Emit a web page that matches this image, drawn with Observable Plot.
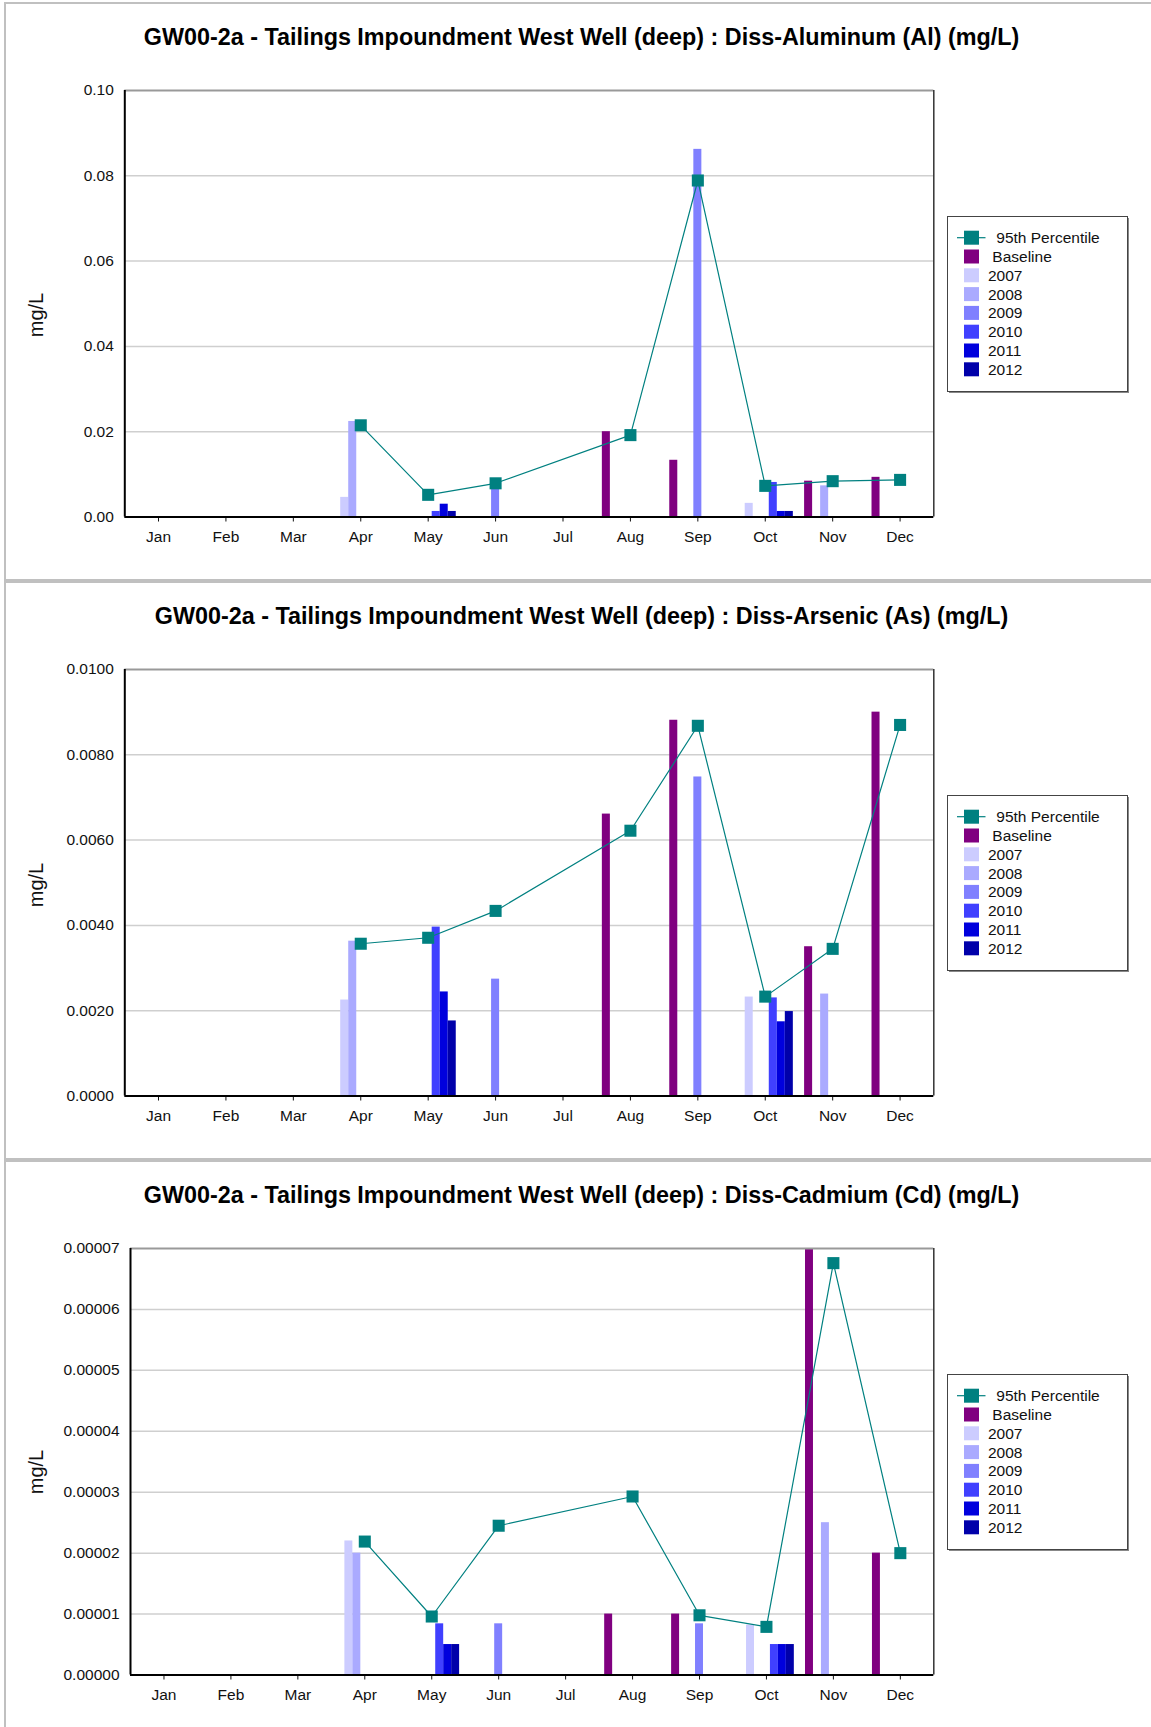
<!DOCTYPE html>
<html>
<head>
<meta charset="utf-8">
<script src="https://cdn.jsdelivr.net/npm/d3@7"></script>
<script src="https://cdn.jsdelivr.net/npm/@observablehq/plot@0.6"></script>
<style>
html, body { margin: 0; padding: 0; background: #fff; overflow: hidden; }
body { font-family: "Liberation Sans", Arial, sans-serif; }
#wrap { padding-top: 2px; padding-left: 4px; }
.panel { position: relative; width: 1151px; height: 575px; border: 2px solid #c0c0c0; border-right: none; background: #fff; overflow: hidden; }
.title { position: absolute; left: 0; top: 20px; width: 1151px; text-align: center; font-weight: bold; font-size: 23.35px; line-height: 26px; color: #000; white-space: nowrap; }
.ylabel { position: absolute; left: 30.3px; font-size: 20px; line-height: 22px; color: #111; white-space: nowrap; transform: translate(-50%, -50%) rotate(-90deg); }
.panel svg.chart { position: absolute; left: 0; top: 0; }
.panel svg.legend { position: absolute; left: 941px; top: 212px; }
</style>
</head>
<body>
<div id="wrap"></div>
<script>
// ---------- shared categories ----------
const months = ["Jan","Feb","Mar","Apr","May","Jun","Jul","Aug","Sep","Oct","Nov","Dec"];
const series = ["Baseline","2007","2008","2009","2010","2011","2012"];
const seriesColors = ["#800080","#ccccff","#aaaaff","#8080ff","#4040ff","#0000dd","#0000aa"];
const p95Label = "95th Percentile";
const p95Color = "#008080";
const yLabel = "mg/L";

// ---------- Panel 1: Diss-Aluminum (Al) ----------
const alTitle = "GW00-2a - Tailings Impoundment West Well (deep) : Diss-Aluminum (Al) (mg/L)";
const alTicks = [0, 0.02, 0.04, 0.06, 0.08, 0.10];
//                 Jan   Feb   Mar   Apr     May     Jun     Jul   Aug     Sep     Oct     Nov     Dec
const alBaseline = [null, null, null, null,   null,   null,   null, 0.0200, 0.0133, null,   0.0084, 0.0093];
const al2007     = [null, null, null, 0.0046, null,   null,   null, null,   null,   0.0032, null,   null];
const al2008     = [null, null, null, 0.0224, null,   null,   null, null,   null,   null,   0.0073, null];
const al2009     = [null, null, null, null,   null,   0.0070, null, null,   0.0862, null,   null,   null];
const al2010     = [null, null, null, null,   0.0013, null,   null, null,   null,   0.0081, null,   null];
const al2011     = [null, null, null, null,   0.0030, null,   null, null,   null,   0.0013, null,   null];
const al2012     = [null, null, null, null,   0.0013, null,   null, null,   null,   0.0013, null,   null];
const alP95      = [null, null, null, 0.0215, 0.0052, 0.0079, null, 0.0192, 0.0789, 0.0073, 0.0084, 0.0087];

// ---------- Panel 2: Diss-Arsenic (As) ----------
const asTitle = "GW00-2a - Tailings Impoundment West Well (deep) : Diss-Arsenic (As) (mg/L)";
const asTicks = [0, 0.002, 0.004, 0.006, 0.008, 0.010];
const asBaseline = [null, null, null, null,    null,    null,    null, 0.00661, 0.00881, null,    0.00350, 0.00900];
const as2007     = [null, null, null, 0.00225, null,    null,    null, null,    null,    0.00232, null,    null];
const as2008     = [null, null, null, 0.00363, null,    null,    null, null,    null,    null,    0.00239, null];
const as2009     = [null, null, null, null,    null,    0.00274, null, null,    0.00748, null,    null,    null];
const as2010     = [null, null, null, null,    0.00396, null,    null, null,    null,    0.00230, null,    null];
const as2011     = [null, null, null, null,    0.00244, null,    null, null,    null,    0.00174, null,    null];
const as2012     = [null, null, null, null,    0.00176, null,    null, null,    null,    0.00198, null,    null];
const asP95      = [null, null, null, 0.00357, 0.00371, 0.00434, null, 0.00622, 0.00868, 0.00233, 0.00345, 0.00870];

// ---------- Panel 3: Diss-Cadmium (Cd) ----------
const cdTitle = "GW00-2a - Tailings Impoundment West Well (deep) : Diss-Cadmium (Cd) (mg/L)";
const cdTicks = [0, 0.00001, 0.00002, 0.00003, 0.00004, 0.00005, 0.00006, 0.00007];
const cdBaseline = [null, null, null, null,      null,      null,      null, 0.0000100, 0.0000100, null,      0.0000700, 0.0000200];
const cd2007     = [null, null, null, 0.0000220, null,      null,      null, null,      null,      0.0000082, null,      null];
const cd2008     = [null, null, null, 0.0000200, null,      null,      null, null,      null,      null,      0.0000250, null];
const cd2009     = [null, null, null, null,      null,      0.0000084, null, null,      0.0000084, null,      null,      null];
const cd2010     = [null, null, null, null,      0.0000084, null,      null, null,      null,      0.0000050, null,      null];
const cd2011     = [null, null, null, null,      0.0000050, null,      null, null,      null,      0.0000050, null,      null];
const cd2012     = [null, null, null, null,      0.0000050, null,      null, null,      null,      0.0000050, null,      null];
const cdP95      = [null, null, null, 0.0000219, 0.0000096, 0.0000245, null, 0.0000293, 0.0000098, 0.0000079, 0.0000676, 0.0000200];

const panels = [
  {title: alTitle, ticks: alTicks, fmt: ".2f", bars: [alBaseline, al2007, al2008, al2009, al2010, al2011, al2012], p95: alP95, ml: 118.3, ylabelTop: 311},
  {title: asTitle, ticks: asTicks, fmt: ".4f", bars: [asBaseline, as2007, as2008, as2009, as2010, as2011, as2012], p95: asP95, ml: 118.3, ylabelTop: 302},
  {title: cdTitle, ticks: cdTicks, fmt: ".5f", bars: [cdBaseline, cd2007, cd2008, cd2009, cd2010, cd2011, cd2012], p95: cdP95, ml: 124, ylabelTop: 310}
];

const W = 1151, H = 575;
const BW = 0.119;                 // bar width as a fraction of one month
const PAD = (1 - series.length * BW) / 2;
const font = "'Liberation Sans', Arial, sans-serif";

function makeChart(cfg) {
  const rows = [];
  cfg.bars.forEach((vals, s) => vals.forEach((v, m) => { if (v != null) rows.push({m, s, v}); }));
  const pts = cfg.p95.map((v, m) => ({m, v})).filter(d => d.v != null);
  const ymax = cfg.ticks[cfg.ticks.length - 1];
  const x1 = d => d.m - 0.5 + PAD + d.s * BW;
  const x2 = d => d.m - 0.5 + PAD + (d.s + 1) * BW;
  const svg = Plot.plot({
    width: W, height: H,
    marginLeft: cfg.ml, marginRight: W - 927.3, marginTop: 86, marginBottom: H - 512.5,
    style: {fontFamily: font, fontSize: "15.5px", color: "#111", background: "transparent", overflow: "visible"},
    x: {domain: [-0.5, 11.5], ticks: d3.range(12), tickFormat: i => months[i], tickSize: 5, tickPadding: 9, label: null},
    y: {domain: [0, ymax], ticks: cfg.ticks, tickFormat: d3.format(cfg.fmt), tickSize: 0, tickPadding: 11, label: null},
    color: {type: "identity"},
    marks: [
      Plot.ruleY(cfg.ticks.filter(t => t > 0 && t < ymax), {stroke: "#cfcfcf", strokeWidth: 1.5}),
      Plot.rectY(rows, {x1, x2, y1: 0, y2: "v", fill: d => seriesColors[d.s], clip: true}),
      Plot.line(pts, {x: "m", y: "v", stroke: p95Color, strokeWidth: 1.2}),
      Plot.dot(pts, {x: "m", y: "v", symbol: "square", r: 6.8, fill: p95Color, stroke: "none"}),
      Plot.ruleY([ymax], {stroke: "#999999", strokeWidth: 2}),
      Plot.ruleX([11.5], {stroke: "#333333", strokeWidth: 1.5}),
      Plot.ruleX([-0.5], {stroke: "#000", strokeWidth: 2}),
      Plot.ruleY([0], {stroke: "#000", strokeWidth: 2})
    ]
  });
  svg.classList.add("chart");
  return svg;
}

function makeLegend() {
  const svg = d3.create("svg").attr("class", "legend").attr("width", 186).attr("height", 182)
    .style("font-family", font).style("font-size", "15.5px");
  svg.append("rect").attr("x", 2).attr("y", 2).attr("width", 180).attr("height", 175).attr("fill", "#888");
  svg.append("rect").attr("x", 0.5).attr("y", 0.5).attr("width", 180).attr("height", 175).attr("fill", "#fff").attr("stroke", "#444");
  const rowY = i => 21.7 + i * 18.8;
  svg.append("line").attr("x1", 10).attr("x2", 38.5).attr("y1", rowY(0)).attr("y2", rowY(0)).attr("stroke", p95Color).attr("stroke-width", 1.2);
  svg.append("rect").attr("x", 17).attr("y", rowY(0) - 7).attr("width", 15).attr("height", 14).attr("fill", p95Color);
  svg.append("text").attr("x", 49.3).attr("y", rowY(0)).attr("dy", "0.35em").attr("fill", "#111").text(p95Label);
  series.forEach((s, i) => {
    const y = rowY(i + 1);
    svg.append("rect").attr("x", 17).attr("y", y - 7).attr("width", 15).attr("height", 14).attr("fill", seriesColors[i]);
    svg.append("text").attr("x", i === 0 ? 45.3 : 41).attr("y", y).attr("dy", "0.35em").attr("fill", "#111").text(s);
  });
  return svg.node();
}

const wrap = document.getElementById("wrap");
panels.forEach(cfg => {
  const panel = document.createElement("div");
  panel.className = "panel";
  const title = document.createElement("div");
  title.className = "title";
  title.textContent = cfg.title;
  const yl = document.createElement("div");
  yl.className = "ylabel";
  yl.style.top = cfg.ylabelTop + "px";
  yl.textContent = yLabel;
  panel.appendChild(makeChart(cfg));
  panel.appendChild(title);
  panel.appendChild(yl);
  panel.appendChild(makeLegend());
  wrap.appendChild(panel);
});
</script>
</body>
</html>
